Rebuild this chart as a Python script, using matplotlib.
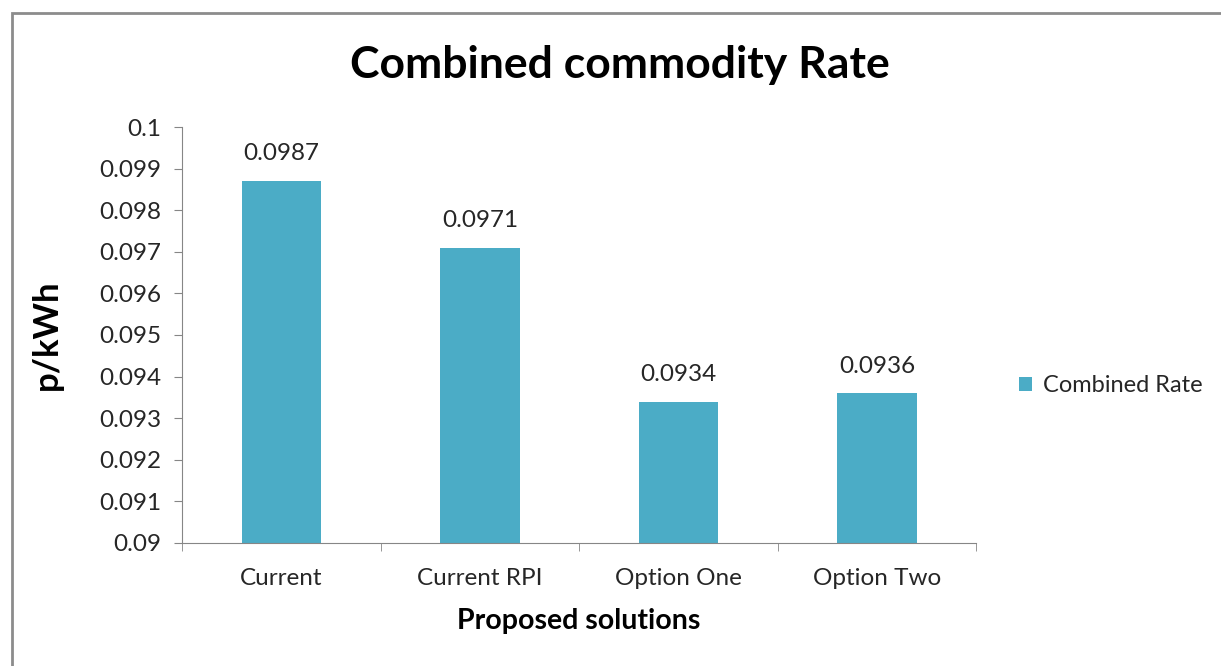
import matplotlib.pyplot as plt
from matplotlib.patches import Rectangle
from matplotlib.ticker import FixedLocator, NullFormatter

# data
categories = ['Current', 'Current RPI', 'Option One', 'Option Two']
rates = [0.0987, 0.0971, 0.0934, 0.0936]
rate_labels = ['0.0987', '0.0971', '0.0934', '0.0936']
yticks = [0.09, 0.091, 0.092, 0.093, 0.094, 0.095, 0.096, 0.097, 0.098, 0.099, 0.1]
ytick_labels = ['0.09', '0.091', '0.092', '0.093', '0.094', '0.095',
                '0.096', '0.097', '0.098', '0.099', '0.1']

plt.rcParams['font.family'] = ['Lato', 'DejaVu Sans']
bar_color = '#4BACC6'
axis_color = '#868686'
text_color = '#262626'

fig = plt.figure(figsize=(12.21, 6.66), dpi=100)
ax = fig.add_axes([0.149, 0.1847, 0.6506, 0.6246])

x = list(range(len(categories)))
bars = ax.bar(x, rates, width=0.4, color=bar_color, label='Combined Rate', zorder=2)

for b, lab in zip(bars, rate_labels):
    ax.annotate(lab, (b.get_x() + b.get_width() / 2, b.get_height()),
                xytext=(0, 12), textcoords='offset points', ha='center', va='bottom',
                fontsize=17.5, color=text_color)

ax.set_xlim(-0.5, len(categories) - 0.5)
ax.set_ylim(0.09, 0.1)
ax.set_yticks(yticks)
ax.set_yticklabels(ytick_labels)

# category ticks between bars, labels centered
ax.set_xticks(x)
ax.set_xticklabels(categories)
ax.xaxis.set_minor_locator(FixedLocator([i - 0.5 for i in range(len(categories) + 1)]))
ax.xaxis.set_minor_formatter(NullFormatter())
ax.tick_params(axis='x', which='major', length=0, pad=18, labelsize=17.5, labelcolor=text_color)
ax.tick_params(axis='x', which='minor', length=6, color=axis_color, direction='out')
ax.tick_params(axis='y', length=6, color=axis_color, direction='out', pad=9,
               labelsize=17.5, labelcolor=text_color)

for s in ['top', 'right']:
    ax.spines[s].set_visible(False)
for s in ['left', 'bottom']:
    ax.spines[s].set_color(axis_color)

ax.set_xlabel('Proposed solutions', fontsize=20.5, fontweight='bold', color='black', labelpad=14)
ax.set_ylabel('p/kWh', fontsize=25, fontweight='bold', color='black', labelpad=26)
fig.text(0.508, 0.902, 'Combined commodity Rate', ha='center', va='center',
         fontsize=32, fontweight='bold', color='black')

ax.legend(loc='center left', bbox_to_anchor=(1.027, 0.378), frameon=False, fontsize=17,
          handlelength=0.55, handleheight=0.55, handletextpad=0.45, labelcolor=text_color)

# outer chart border (left and top visible)
fig.patches.append(Rectangle((12 / 1221, -0.05), 1.1, (666 - 13) / 666 + 0.05,
                             transform=fig.transFigure, fill=False,
                             edgecolor='#8c8c8c', linewidth=2))

fig.savefig('out.png', dpi=100)
